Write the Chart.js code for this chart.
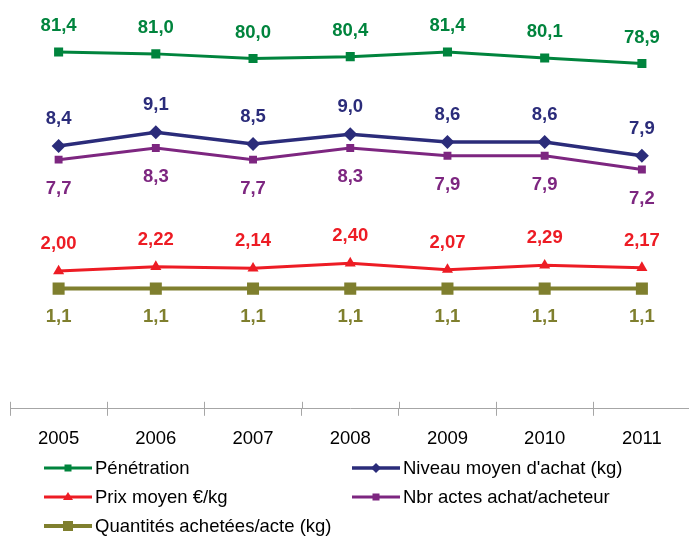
<!DOCTYPE html>
<html>
<head>
<meta charset="utf-8">
<script src="https://cdn.jsdelivr.net/npm/chart.js@4.4.1/dist/chart.umd.min.js"></script>
<style>
  html, body { margin: 0; padding: 0; background: #fff; overflow: hidden; }
  #wrap { position: relative; width: 699px; height: 536px; }
  #graficoLignes { position: absolute; left: 0; top: 0; }
  .leg { position: absolute; height: 24px; display: flex; align-items: center;
         font-family: "Liberation Sans", Arial, sans-serif; font-size: 18.5px; color: #000; white-space: nowrap; }
  .leg svg { margin-right: 3px; }
</style>
</head>
<body>
<div id="wrap">
  <canvas id="graficoLignes" width="699" height="536"></canvas>
</div>
<script>
var annees = ['2005','2006','2007','2008','2009','2010','2011'];
var penetration = [81.4, 81.0, 80.0, 80.4, 81.4, 80.1, 78.9];
var niveauMoyen = [8.4, 9.1, 8.5, 9.0, 8.6, 8.6, 7.9];
var prixMoyen = [2.00, 2.22, 2.14, 2.40, 2.07, 2.29, 2.17];
var nbrActes = [7.7, 8.3, 7.7, 8.3, 7.9, 7.9, 7.2];
var quantites = [1.1, 1.1, 1.1, 1.1, 1.1, 1.1, 1.1];

var police = '"Liberation Sans", Arial, sans-serif';

/* etiquettes de valeurs au dessus / en dessous des points */
var etiquettes = {
  id: 'etiquettes',
  afterDatasetsDraw: function(chart) {
    var ctx = chart.ctx;
    ctx.save();
    ctx.font = 'bold 18.5px ' + police;
    ctx.textAlign = 'center';
    ctx.textBaseline = 'middle';
    chart.data.datasets.forEach(function(ds, i) {
      var meta = chart.getDatasetMeta(i);
      ctx.fillStyle = ds.borderColor;
      meta.data.forEach(function(pt, j) {
        var txt = ds.data[j].toFixed(ds.decimales).replace('.', ',');
        ctx.fillText(txt, pt.x, pt.y + ds.decalage);
      });
    });
    ctx.restore();
  }
};

/* petits traits de graduation qui croisent l'axe */
var graduations = {
  id: 'graduations',
  afterDraw: function(chart) {
    var sx = chart.scales.x;
    var ctx = chart.ctx;
    var pas = sx.width / annees.length;
    ctx.save();
    ctx.strokeStyle = '#a6a6a6';
    ctx.lineWidth = 1;
    ctx.beginPath();
    for (var i = 0; i <= annees.length; i++) {
      var x = Math.round(sx.left + i * pas) + 0.5;
      ctx.moveTo(x, sx.top - 7);
      ctx.lineTo(x, sx.top);
    }
    ctx.stroke();
    ctx.restore();
  }
};

var dataLignes = {
  labels: annees,
  datasets: [
    { label: 'Pénétration', data: penetration, yAxisID: 'y2',
      borderColor: '#00843d', backgroundColor: '#00843d', borderWidth: 3,
      pointStyle: 'rect', pointRadius: 6.4, pointBorderWidth: 0,
      decimales: 1, decalage: -26, legPoint: 'rect', legTaille: 7 },
    { label: "Niveau moyen d'achat (kg)", data: niveauMoyen, yAxisID: 'y',
      borderColor: '#2b2c7a', backgroundColor: '#2b2c7a', borderWidth: 3.5,
      pointStyle: 'rectRot', pointRadius: 7, pointBorderWidth: 0,
      decimales: 1, decalage: -27, legPoint: 'diamond', legTaille: 10 },
    { label: 'Prix moyen €/kg', data: prixMoyen, yAxisID: 'y',
      borderColor: '#ed1c24', backgroundColor: '#ed1c24', borderWidth: 3,
      pointStyle: 'triangle', pointRadius: 6.4, pointBorderWidth: 0,
      decimales: 2, decalage: -27, legPoint: 'triangle', legTaille: 10 },
    { label: 'Nbr actes achat/acheteur', data: nbrActes, yAxisID: 'y',
      borderColor: '#7d2680', backgroundColor: '#7d2680', borderWidth: 3,
      pointStyle: 'rect', pointRadius: 5.6, pointBorderWidth: 0,
      decimales: 1, decalage: 29, legPoint: 'rect', legTaille: 7 },
    { label: 'Quantités achetées/acte (kg)', data: quantites, yAxisID: 'y',
      borderColor: '#7f7f2e', backgroundColor: '#7f7f2e', borderWidth: 4,
      pointStyle: 'rect', pointRadius: 8.5, pointBorderWidth: 0,
      decimales: 1, decalage: 28.5, legPoint: 'rect', legTaille: 10 }
  ]
};

var options = {
  responsive: false,
  animation: false,
  devicePixelRatio: 1,
  layout: { padding: { left: 10, right: 0, top: 17, bottom: 74 } },
  elements: { line: { tension: 0 } },
  plugins: { legend: { display: false }, tooltip: { enabled: false } },
  scales: {
    x: {
      offset: true,
      grid: { offset: true, drawOnChartArea: false, tickLength: 7, color: '#a6a6a6' },
      border: { color: '#a6a6a6' },
      ticks: { color: '#000', padding: 12, font: { family: police, size: 18.5 } }
    },
    y: { display: false, min: -5.05, max: 15 },
    y2: { display: false, min: 4, max: 89 }
  }
};

var ctx = document.getElementById('graficoLignes').getContext('2d');
var graphique = new Chart(ctx, {
  type: 'line',
  data: dataLignes,
  options: options,
  plugins: [etiquettes, graduations]
});

/* legende en deux colonnes */
function symbole(ds) {
  var c = ds.borderColor, t = ds.legTaille, h = t / 2, forme = '';
  if (ds.legPoint === 'rect') {
    forme = '<rect x="' + (24 - h) + '" y="' + (8 - h) + '" width="' + t + '" height="' + t + '" fill="' + c + '"/>';
  } else if (ds.legPoint === 'diamond') {
    forme = '<polygon points="' + (24 - h) + ',8 24,' + (8 - h) + ' ' + (24 + h) + ',8 24,' + (8 + h) + '" fill="' + c + '"/>';
  } else {
    forme = '<polygon points="24,' + (8 - h) + ' ' + (24 + h) + ',' + (8 + h * 0.6) + ' ' + (24 - h) + ',' + (8 + h * 0.6) + '" fill="' + c + '"/>';
  }
  return '<svg width="48" height="16"><line x1="0" y1="8" x2="48" y2="8" stroke="' + c +
    '" stroke-width="' + ds.borderWidth + '"/>' + forme + '</svg>';
}

var wrap = document.getElementById('wrap');
var colX = [44, 352];
var rangY = [468, 496.5, 525.5];
dataLignes.datasets.forEach(function(ds, i) {
  var d = document.createElement('div');
  d.className = 'leg';
  d.style.left = colX[i % 2] + 'px';
  d.style.top = (rangY[Math.floor(i / 2)] - 12) + 'px';
  d.innerHTML = symbole(ds) + '<span>' + ds.label + '</span>';
  wrap.appendChild(d);
});
</script>
</body>
</html>
